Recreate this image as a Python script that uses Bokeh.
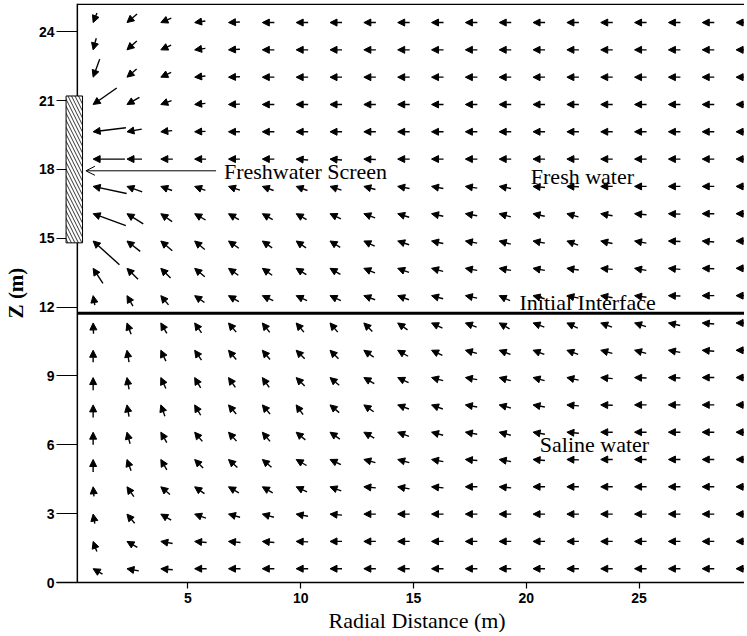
import math
from bokeh.plotting import figure
from bokeh.models import (ColumnDataSource, Arrow, NormalHead, OpenHead,
                          BoxAnnotation, Label, FixedTicker, Range1d, Title)
from bokeh.embed import file_html
from bokeh.resources import INLINE

# ---------------- data ----------------
# radial position of the arrow tips (m)
radial_cols = [0.8, 2.3, 3.8, 5.3, 6.8, 8.3, 9.8, 11.3, 12.8, 14.3,
               15.8, 17.3, 18.8, 20.3, 21.8, 23.3, 24.8, 26.3, 27.8, 29.3]
# elevation of the arrow rows (m), top to bottom
depth_rows = [24.40, 23.21, 22.02, 20.83, 19.64, 18.45, 17.26, 16.07, 14.88, 13.69,
              12.50, 11.31, 10.12, 8.93, 7.74, 6.55, 5.36, 4.17, 2.98, 1.79, 0.60]

# flow direction (degrees, 180 = towards the well, 90 = upward), rows top to bottom
flow_dir_deg = [
    [248, 220, 203, 188, 183, 180, 180, 180, 180, 180, 180, 180, 180, 180, 180, 180, 180, 180, 180, 180],
    [255, 222, 205, 188, 183, 180, 180, 180, 180, 180, 180, 180, 180, 180, 180, 180, 180, 180, 180, 180],
    [250, 220, 205, 186, 182, 180, 180, 180, 180, 180, 180, 180, 180, 180, 180, 180, 180, 180, 180, 180],
    [215, 210, 200, 186, 182, 180, 180, 180, 180, 180, 180, 180, 180, 180, 180, 180, 180, 180, 180, 180],
    [187, 190, 186, 182, 180, 180, 180, 180, 180, 180, 180, 180, 180, 180, 180, 180, 180, 180, 180, 180],
    [180, 180, 180, 180, 180, 180, 176, 176, 178, 180, 180, 180, 180, 180, 180, 180, 180, 180, 180, 180],
    [168, 160, 160, 160, 162, 160, 160, 162, 165, 170, 170, 172, 170, 175, 178, 180, 180, 180, 180, 180],
    [160, 148, 145, 150, 150, 150, 150, 155, 160, 163, 168, 170, 165, 168, 165, 170, 175, 178, 180, 180],
    [138, 142, 140, 140, 145, 145, 145, 148, 155, 162, 168, 170, 165, 170, 160, 168, 170, 178, 175, 180],
    [123, 135, 135, 140, 145, 145, 148, 150, 158, 160, 165, 170, 170, 170, 172, 175, 170, 175, 178, 180],
    [100, 120, 130, 145, 150, 155, 155, 155, 160, 160, 165, 168, 155, 165, 168, 170, 172, 178, 180, 180],
    [92, 110, 120, 125, 130, 128, 130, 130, 135, 145, 155, 160, 150, 160, 155, 160, 162, 168, 175, 180],
    [90, 100, 115, 125, 130, 130, 135, 135, 145, 150, 155, 165, 160, 160, 160, 165, 165, 170, 175, 180],
    [90, 100, 115, 120, 125, 125, 135, 140, 150, 155, 165, 170, 165, 165, 168, 175, 178, 178, 180, 180],
    [90, 100, 110, 120, 130, 130, 125, 140, 145, 160, 160, 170, 165, 170, 175, 178, 180, 180, 180, 180],
    [90, 105, 120, 130, 132, 130, 140, 145, 150, 160, 165, 170, 165, 170, 175, 180, 180, 180, 180, 180],
    [90, 110, 120, 135, 138, 140, 150, 155, 165, 165, 170, 175, 170, 175, 178, 180, 180, 180, 180, 180],
    [95, 125, 140, 145, 150, 150, 155, 160, 175, 170, 175, 180, 175, 180, 180, 180, 180, 180, 180, 180],
    [100, 130, 150, 160, 165, 165, 170, 175, 180, 180, 180, 180, 180, 180, 180, 180, 180, 180, 180, 180],
    [110, 150, 170, 175, 175, 175, 178, 180, 180, 180, 180, 180, 180, 180, 180, 180, 180, 180, 180, 180],
    [150, 170, 175, 180, 180, 180, 180, 180, 180, 180, 180, 180, 180, 180, 180, 180, 180, 180, 180, 180],
]

# relative flow speed (1.0 = typical far-field arrow), rows top to bottom
flow_speed = [
    [0.85, 1.10, 0.95, 0.90, 0.95, 1.0, 1.0, 1.0, 1.0, 1.0, 1.0, 1.0, 1.0, 1.0, 1.0, 1.0, 1.0, 1.0, 1.0, 1.0],
    [1.00, 1.10, 0.95, 0.90, 0.95, 1.0, 1.0, 1.0, 1.0, 1.0, 1.0, 1.0, 1.0, 1.0, 1.0, 1.0, 1.0, 1.0, 1.0, 1.0],
    [1.60, 1.05, 0.95, 0.90, 0.95, 1.0, 1.0, 1.0, 1.0, 1.0, 1.0, 1.0, 1.0, 1.0, 1.0, 1.0, 1.0, 1.0, 1.0, 1.0],
    [2.40, 1.20, 0.95, 0.90, 0.95, 1.0, 1.0, 1.0, 1.0, 1.0, 1.0, 1.0, 1.0, 1.0, 1.0, 1.0, 1.0, 1.0, 1.0, 1.0],
    [2.75, 1.25, 0.95, 0.90, 0.95, 1.0, 1.0, 1.0, 1.0, 1.0, 1.0, 1.0, 1.0, 1.0, 1.0, 1.0, 1.0, 1.0, 1.0, 1.0],
    [2.65, 1.25, 1.00, 0.95, 0.95, 1.0, 1.0, 1.0, 1.0, 1.0, 1.0, 1.0, 1.0, 1.0, 1.0, 1.0, 1.0, 1.0, 1.0, 1.0],
    [2.85, 1.35, 1.00, 0.95, 1.00, 1.0, 1.0, 1.0, 1.0, 1.0, 1.0, 1.0, 1.0, 1.0, 1.0, 1.0, 1.0, 1.0, 1.0, 1.0],
    [2.90, 1.60, 1.15, 1.05, 1.00, 1.0, 1.0, 1.0, 1.0, 1.0, 1.0, 1.0, 1.0, 1.0, 1.0, 1.0, 1.0, 1.0, 1.0, 1.0],
    [2.95, 1.40, 1.25, 1.10, 1.05, 1.0, 1.0, 1.0, 1.0, 1.0, 1.0, 1.0, 1.0, 1.0, 1.0, 1.0, 1.0, 1.0, 1.0, 1.0],
    [1.50, 1.30, 1.15, 1.10, 1.00, 1.0, 1.0, 1.0, 1.0, 1.0, 1.0, 1.0, 1.0, 1.0, 1.0, 1.0, 1.0, 1.0, 1.0, 1.0],
    [0.80, 1.00, 1.00, 1.00, 1.00, 1.0, 1.0, 1.0, 1.0, 1.0, 1.0, 1.0, 1.0, 1.0, 1.0, 1.0, 1.0, 1.0, 1.0, 1.0],
    [0.90, 1.00, 1.00, 1.00, 1.00, 1.0, 1.0, 1.0, 1.0, 1.0, 1.0, 1.0, 1.0, 1.0, 1.0, 1.0, 1.0, 1.0, 1.0, 1.0],
    [1.00, 1.00, 1.00, 1.00, 1.00, 1.0, 1.0, 1.0, 1.0, 1.0, 1.0, 1.0, 1.0, 1.0, 1.0, 1.0, 1.0, 1.0, 1.0, 1.0],
    [1.05, 1.00, 1.00, 1.00, 1.00, 1.0, 1.0, 1.0, 1.0, 1.0, 1.0, 1.0, 1.0, 1.0, 1.0, 1.0, 1.0, 1.0, 1.0, 1.0],
    [1.05, 1.00, 1.00, 1.00, 1.00, 1.0, 1.0, 1.0, 1.0, 1.0, 1.0, 1.0, 1.0, 1.0, 1.0, 1.0, 1.0, 1.0, 1.0, 1.0],
    [1.05, 1.00, 1.00, 1.00, 1.00, 1.0, 1.0, 1.0, 1.0, 1.0, 1.0, 1.0, 1.0, 1.0, 1.0, 1.0, 1.0, 1.0, 1.0, 1.0],
    [1.05, 1.00, 1.00, 1.00, 1.00, 1.0, 1.0, 1.0, 1.0, 1.0, 1.0, 1.0, 1.0, 1.0, 1.0, 1.0, 1.0, 1.0, 1.0, 1.0],
    [0.80, 1.00, 1.00, 1.00, 1.00, 1.0, 1.0, 1.0, 1.0, 1.0, 1.0, 1.0, 1.0, 1.0, 1.0, 1.0, 1.0, 1.0, 1.0, 1.0],
    [0.80, 1.00, 1.00, 1.00, 1.00, 1.0, 1.0, 1.0, 1.0, 1.0, 1.0, 1.0, 1.0, 1.0, 1.0, 1.0, 1.0, 1.0, 1.0, 1.0],
    [0.90, 1.00, 1.00, 1.00, 1.00, 1.0, 1.0, 1.0, 1.0, 1.0, 1.0, 1.0, 1.0, 1.0, 1.0, 1.0, 1.0, 1.0, 1.0, 1.0],
    [0.90, 1.00, 1.00, 1.00, 1.00, 1.0, 1.0, 1.0, 1.0, 1.0, 1.0, 1.0, 1.0, 1.0, 1.0, 1.0, 1.0, 1.0, 1.0, 1.0],
]

x_ticks = [5, 10, 15, 20, 25]
z_ticks = [0, 3, 6, 9, 12, 15, 18, 21, 24]

well_radius = 0.1
model_right = 30.0
model_top = 25.23
interface_z = 11.73
screen_left, screen_right = -0.40, 0.33
screen_bottom, screen_top = 14.8, 21.2
pointer_from = (6.25, 17.94)
pointer_to = (0.48, 17.94)

# annotation texts: (x, baseline z, text)
region_labels = [
    (6.6, 17.92, "Freshwater Screen"),
    (20.2, 17.70, "Fresh water"),
    (19.7, 12.20, "Initial Interface"),
    (20.6, 6.02, "Saline water"),
]

# ---------------- layout / style ----------------
BORDER_L, BORDER_T, BORDER_B = 53, 3, 50
FRAME_W, FRAME_H = 688, 579
PX_PER_X = 22.56
X_START = -0.824
X_END = X_START + FRAME_W / PX_PER_X
PX_PER_Z = FRAME_H / model_top
ARROW_PX = 12.0          # pixel length of a speed of 1.0
SERIF = "Liberation Serif"
SANS = "Liberation Sans"

x0, y0, x1, y1 = [], [], [], []
for r, z in enumerate(depth_rows):
    for c, x in enumerate(radial_cols):
        a = math.radians(flow_dir_deg[r][c])
        L = flow_speed[r][c] * ARROW_PX
        x1.append(x)
        y1.append(z)
        x0.append(x - L * math.cos(a) / PX_PER_X)
        y0.append(z - L * math.sin(a) / PX_PER_Z)
src = ColumnDataSource(dict(x0=x0, y0=y0, x1=x1, y1=y1))

p = figure(frame_width=FRAME_W, frame_height=FRAME_H,
           x_range=Range1d(X_START, X_END), y_range=Range1d(0, model_top),
           output_backend="svg", toolbar_location=None,
           min_border_left=BORDER_L, min_border_right=0,
           min_border_top=BORDER_T, min_border_bottom=BORDER_B)
p.outline_line_color = None
p.grid.visible = False
p.background_fill_color = "white"
p.border_fill_color = "white"

# y axis: ticks reach inward to the spine at the well radius
p.yaxis.ticker = FixedTicker(ticks=z_ticks)
p.yaxis.axis_line_color = None
p.yaxis.major_tick_in = 21
p.yaxis.major_tick_out = 0
p.yaxis.major_tick_line_width = 1.2
p.yaxis.major_tick_line_color = "black"
p.yaxis.minor_tick_line_color = None
p.yaxis.major_label_standoff = 2
p.yaxis.major_label_text_font = SANS
p.yaxis.major_label_text_font_size = "14px"
p.yaxis.major_label_text_font_style = "bold"
p.yaxis.major_label_text_color = "black"
p.yaxis.axis_label = "Z (m)"
p.yaxis.axis_label_text_font = SERIF
p.yaxis.axis_label_text_font_size = "21px"
p.yaxis.axis_label_text_font_style = "bold"
p.yaxis.axis_label_text_color = "black"
p.yaxis.axis_label_standoff = 8

p.xaxis.ticker = FixedTicker(ticks=x_ticks)
p.xaxis.axis_line_width = 1.5
p.xaxis.axis_line_color = "black"
p.xaxis.major_tick_in = 0
p.xaxis.major_tick_out = 6
p.xaxis.major_tick_line_width = 1.2
p.xaxis.major_tick_line_color = "black"
p.xaxis.minor_tick_line_color = None
p.xaxis.major_label_standoff = 4
p.xaxis.major_label_text_font = SANS
p.xaxis.major_label_text_font_size = "14px"
p.xaxis.major_label_text_font_style = "bold"
p.xaxis.major_label_text_color = "black"

# x axis title, placed under x = 15 like the reference
p.add_layout(Title(text="Radial Distance (m)", align="left", offset=272, standoff=0,
                   text_font=SERIF, text_font_size="22px", text_font_style="normal",
                   text_color="black"), "below")

# frame lines: spine at well radius, top boundary, initial interface
p.segment(x0=[well_radius], y0=[0], x1=[well_radius], y1=[model_top],
          line_color="black", line_width=1.5)
p.segment(x0=[well_radius], y0=[model_top - 0.03], x1=[model_right], y1=[model_top - 0.03],
          line_color="black", line_width=1.5)
p.segment(x0=[well_radius], y0=[interface_z], x1=[model_right], y1=[interface_z],
          line_color="black", line_width=3)

# velocity vectors
p.add_layout(Arrow(end=NormalHead(size=7, fill_color="black", line_color="black", line_width=1),
                   x_start="x0", y_start="y0", x_end="x1", y_end="y1", source=src,
                   line_color="black", line_width=1.4))

# screen
p.add_layout(BoxAnnotation(left=screen_left, right=screen_right, bottom=screen_bottom, top=screen_top,
                           fill_color="white", fill_alpha=1.0, line_color="black", line_width=1,
                           line_alpha=1.0, hatch_pattern="\\", hatch_color="black",
                           hatch_scale=7, hatch_weight=0.8))

p.add_layout(Arrow(end=OpenHead(size=9, line_color="black", line_width=1),
                   x_start=pointer_from[0], y_start=pointer_from[1],
                   x_end=pointer_to[0], y_end=pointer_to[1],
                   line_color="black", line_width=1))

for lx, lz, txt in region_labels:
    p.add_layout(Label(x=lx, y=lz, text=txt, text_font=SERIF, text_font_size="22px",
                       text_color="black", text_align="left", text_baseline="alphabetic"))

open("out.html", "w").write(file_html(p, INLINE))
